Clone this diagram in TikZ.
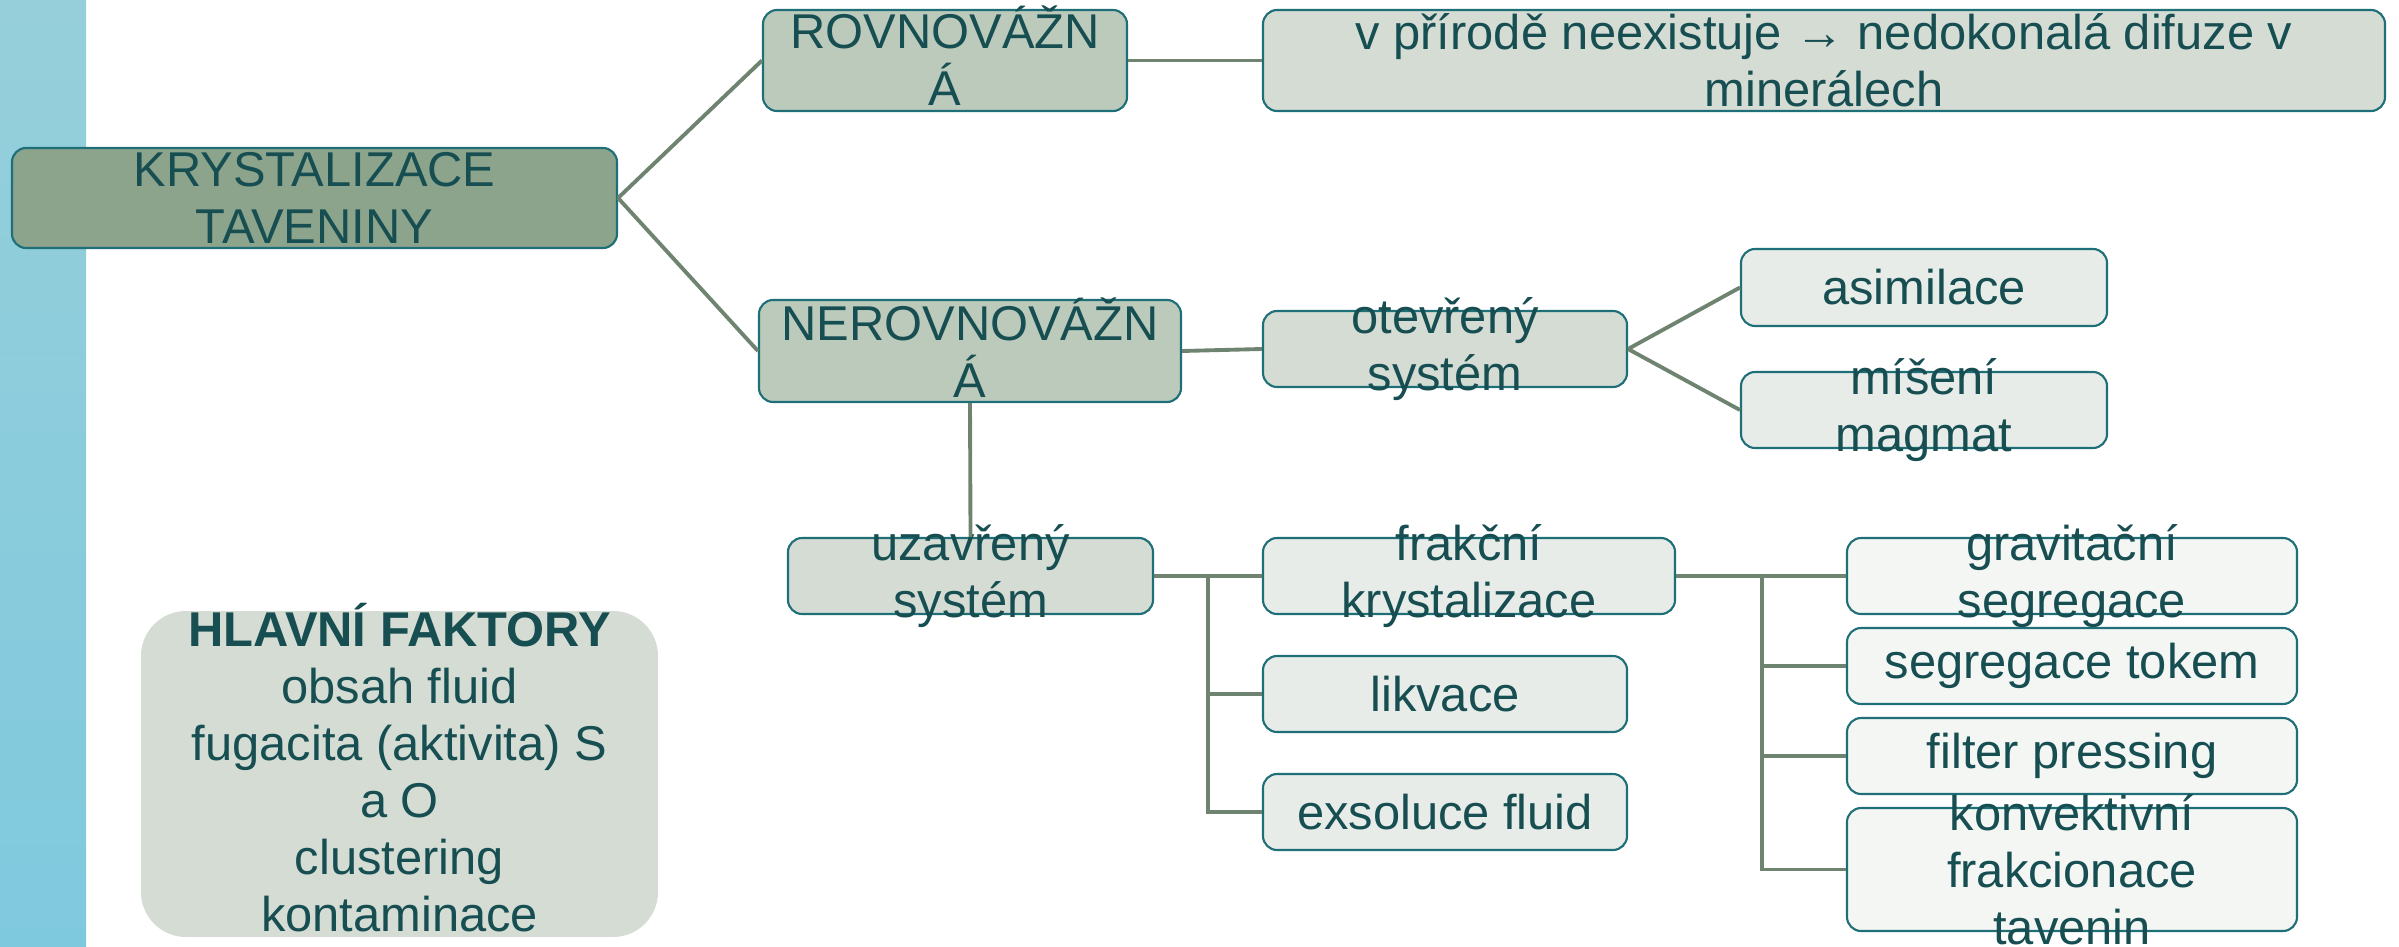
\documentclass[tikz,border=0pt]{standalone}
\usepackage{fontspec}
\setmainfont{Liberation Sans}
\usepackage{xcolor}
\usepackage{tikz}
\usetikzlibrary{positioning}
\definecolor{stripTop}{RGB}{150,207,218}
\definecolor{stripBot}{RGB}{127,201,222}
\definecolor{sageA}{RGB}{140,163,140}
\definecolor{sageB}{RGB}{188,202,188}
\definecolor{sageC}{RGB}{212,220,212}
\definecolor{sageD}{RGB}{232,236,232}
\definecolor{sageE}{RGB}{244,246,244}
\definecolor{boxteal}{RGB}{31,111,120}
\definecolor{txtteal}{RGB}{23,78,82}
\definecolor{linegreen}{RGB}{110,132,112}

\begin{document}
\begin{tikzpicture}[
  every node/.style={font=\fontsize{13.9}{16.2}\selectfont, text=txtteal},
  box/.style={draw=boxteal, line width=0.6pt, rounded corners=4pt, inner sep=0pt},
  lvlA/.style={box, fill=sageA},
  lvlB/.style={box, fill=sageB},
  lvlC/.style={box, fill=sageC},
  lvlD/.style={box, fill=sageD},
  lvlE/.style={box, fill=sageE},
  lbl/.style={align=center, inner sep=0pt},
  conn/.style={draw=linegreen, line width=1.1pt}
]
  \useasboundingbox (0,0) rectangle (23.99,-9.47);
  \shade[top color=stripTop, bottom color=stripBot] (0,0) rectangle (0.86,-9.47);

  % boxes
  \node[lvlA, minimum width=6.05cm, minimum height=1.00cm] (krystal) at (3.145,-1.98) {};
  \node[lvlB, minimum width=3.64cm, minimum height=1.01cm] (rovn)    at (9.45,-0.605) {};
  \node[lvlC, minimum width=11.22cm, minimum height=1.01cm] (priroda) at (18.24,-0.605) {};
  \node[lvlB, minimum width=4.22cm, minimum height=1.02cm] (nerovn)  at (9.70,-3.51) {};
  \node[lvlC, minimum width=3.64cm, minimum height=0.76cm] (otevr)   at (14.45,-3.49) {};
  \node[lvlD, minimum width=3.66cm, minimum height=0.77cm] (asimil)  at (19.24,-2.875) {};
  \node[lvlD, minimum width=3.66cm, minimum height=0.76cm] (miseni)  at (19.24,-4.10) {};
  \node[lvlC, minimum width=3.65cm, minimum height=0.76cm] (uzavr)   at (9.705,-5.76) {};
  \node[lvlD, minimum width=4.12cm, minimum height=0.76cm] (frakc)   at (14.69,-5.76) {};
  \node[lvlD, minimum width=3.64cm, minimum height=0.76cm] (likv)    at (14.45,-6.94) {};
  \node[lvlD, minimum width=3.64cm, minimum height=0.76cm] (exsol)   at (14.45,-8.12) {};
  \node[lvlE, minimum width=4.50cm, minimum height=0.76cm] (grav)    at (20.72,-5.76) {};
  \node[lvlE, minimum width=4.50cm, minimum height=0.76cm] (segtok)  at (20.72,-6.66) {};
  \node[lvlE, minimum width=4.50cm, minimum height=0.76cm] (filter)  at (20.72,-7.56) {};
  \node[lvlE, minimum width=4.50cm, minimum height=1.23cm] (konv)    at (20.72,-8.695) {};
  \node[fill=sageC, rounded corners=0.45cm, inner sep=0pt, minimum width=5.17cm, minimum height=3.26cm] (faktory) at (3.995,-7.74) {};

  % texts
  \node[lbl] (krystal-t) at (krystal) {KRYSTALIZACE\\TAVENINY};
  \node[lbl] (rovn-t)    at ([yshift=0.045cm]rovn.center) {ROVNOVÁŽN\\Á};
  \node[lbl] (priroda-t) at (priroda) {v přírodě neexistuje → nedokonalá difuze v\\minerálech};
  \node[lbl] (nerovn-t)  at ([yshift=0.035cm]nerovn.center) {NEROVNOVÁŽN\\Á};
  \node[lbl] (otevr-t)   at (otevr) {otevřený\\systém};
  \node[lbl] (asimil-t)  at (asimil) {asimilace};
  \node[lbl] (miseni-t)  at (miseni) {míšení\\magmat};
  \node[lbl] (uzavr-t)   at (uzavr) {uzavřený\\systém};
  \node[lbl] (frakc-t)   at (frakc) {frakční\\krystalizace};
  \node[lbl] (likv-t)    at (likv) {likvace};
  \node[lbl] (exsol-t)   at (exsol) {exsoluce fluid};
  \node[lbl] (grav-t)    at (grav) {gravitační\\segregace};
  \node[lbl] (segtok-t)  at (segtok) {segregace tokem};
  \node[lbl] (filter-t)  at (filter) {filter pressing};
  \node[lbl] (konv-t)    at (konv) {konvektivní\\frakcionace\\tavenin};
  \node[lbl] (faktory-t) at ([yshift=0.065cm]faktory.center) {\textbf{HLAVNÍ FAKTORY}\\obsah fluid\\fugacita (aktivita) S\\a O\\clustering\\kontaminace};

  % connectors
  \draw[conn] (krystal.east) -- (rovn.west);
  \draw[conn] (krystal.east) -- (nerovn.west);
  \draw[conn] (rovn.east) -- (priroda.west);
  \draw[conn] (nerovn.east) -- (otevr.west);
  \draw[conn] (otevr.east) -- (asimil.west);
  \draw[conn] (otevr.east) -- (miseni.west);
  \draw[conn] (nerovn.south) -- (uzavr.north);

  \coordinate (busA) at (12.08,-5.76);
  \draw[conn] (uzavr.east) -- (frakc.west);
  \draw[conn] (busA) |- (likv.west);
  \draw[conn] (busA) |- (exsol.west);

  \coordinate (busB) at (17.62,-5.76);
  \draw[conn] (frakc.east) -- (grav.west);
  \draw[conn] (busB) |- (segtok.west);
  \draw[conn] (busB) |- (filter.west);
  \draw[conn] (busB) |- (konv.west);
\end{tikzpicture}
\end{document}
